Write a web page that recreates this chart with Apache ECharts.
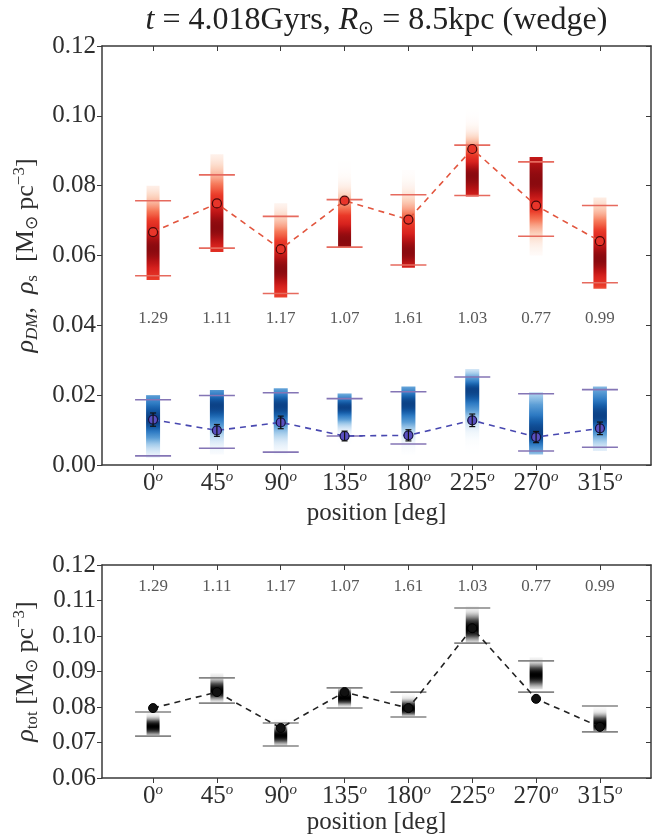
<!DOCTYPE html>
<html><head><meta charset="utf-8">
<script src="https://cdn.jsdelivr.net/npm/echarts@6/dist/echarts.min.js"></script>
<style>html,body{margin:0;padding:0;background:#fff}#c{width:670px;height:837px}</style>
</head><body><div id="c"></div>
<script>
// ---- data ----
const positions = [0, 45, 90, 135, 180, 225, 270, 315];
const ratioLabels = ['1.29', '1.11', '1.17', '1.07', '1.61', '1.03', '0.77', '0.99'];

// dark matter (red)
const redMean       = [0.0667, 0.0749, 0.0618, 0.0757, 0.0703, 0.0905, 0.0743, 0.0641];
const redCapLo      = [0.0542, 0.0621, 0.0491, 0.0624, 0.0573, 0.0772, 0.0655, 0.0522];
const redCapHi      = [0.0757, 0.0831, 0.0712, 0.0760, 0.0774, 0.0916, 0.0868, 0.0743];
const redBarLo      = [0.0530, 0.0610, 0.0480, 0.0622, 0.0565, 0.0769, 0.0600, 0.0505];
const redBarHi      = [0.0800, 0.0890, 0.0750, 0.0870, 0.0845, 0.1035, 0.0882, 0.0766];
const redPeak       = [0.0620, 0.0680, 0.0560, 0.0645, 0.0610, 0.0830, 0.0810, 0.0590];
const redSpreadUp   = [0.0070, 0.0080, 0.0070, 0.0060, 0.0070, 0.0050, 0.0120, 0.0070];
const redSpreadDown = [0.0075, 0.0070, 0.0065, 0.0100, 0.0060, 0.0080, 0.0070, 0.0065];

// stars (blue)
const blueMean       = [0.0130, 0.0099, 0.0122, 0.0083, 0.0085, 0.0128, 0.0080, 0.0105];
const blueErr        = [0.0019, 0.0017, 0.0018, 0.0014, 0.0016, 0.0018, 0.0016, 0.0018];
const blueCapLo      = [0.0026, 0.0048, 0.0037, 0.0083, 0.0060, null, 0.0040, 0.0051];
const blueCapHi      = [0.0187, 0.0199, 0.0207, 0.0190, 0.0210, 0.0252, 0.0204, 0.0216];
const blueBarLo      = [0.0020, 0.0030, 0.0030, 0.0060, 0.0030, 0.0030, 0.0030, 0.0040];
const blueBarHi      = [0.0200, 0.0215, 0.0220, 0.0205, 0.0225, 0.0275, 0.0208, 0.0225];
const bluePeak       = [0.0130, 0.0170, 0.0170, 0.0165, 0.0175, 0.0215, 0.0090, 0.0140];
const blueSpreadUp   = [0.0060, 0.0040, 0.0040, 0.0030, 0.0040, 0.0030, 0.0070, 0.0060];
const blueSpreadDown = [0.0045, 0.0050, 0.0050, 0.0030, 0.0045, 0.0050, 0.0040, 0.0045];

// total (black)
const totMean       = [0.0797, 0.0842, 0.0741, 0.0842, 0.0797, 0.1022, 0.0823, 0.0744];
const totCapLo      = [0.0718, 0.0811, 0.0690, 0.0797, 0.0772, 0.0980, 0.0842, 0.0730];
const totCapHi      = [0.0786, 0.0882, 0.0755, 0.0854, 0.0842, 0.1079, 0.0930, 0.0803];
const totBarLo      = [0.0720, 0.0810, 0.0690, 0.0795, 0.0775, 0.0980, 0.0850, 0.0730];
const totBarHi      = [0.0790, 0.0895, 0.0765, 0.0855, 0.0845, 0.1085, 0.0940, 0.0805];
const totPeak       = [0.0745, 0.0845, 0.0720, 0.0825, 0.0795, 0.1020, 0.0890, 0.0750];
const totSpreadUp   = [0.0015, 0.0020, 0.0015, 0.0015, 0.0015, 0.0025, 0.0020, 0.0018];
const totSpreadDown = [0.0015, 0.0015, 0.0015, 0.0012, 0.0012, 0.0020, 0.0020, 0.0012];

// ---- helpers ----
const SERIF = 'Liberation Serif';
// colour maps: [position, r, g, b]
const cmaps = {
  red:  [[0,255,255,255],[0.1,252,212,192],[0.3,246,120,88],[0.5,234,58,40],[0.75,216,34,30],[0.9,180,18,20],[1,138,10,15]],
  blue: [[0,255,255,255],[0.1,224,237,249],[0.3,160,202,234],[0.5,92,158,214],[0.75,45,122,195],[0.9,20,90,165],[1,12,66,135]],
  grey: [[0,255,255,255],[0.15,225,225,225],[0.35,160,160,160],[0.6,80,80,80],[0.85,25,25,25],[1,0,0,0]]
};
function cmap(name, I) {
  const a = cmaps[name];
  const t = Math.max(0, Math.min(1, I));
  let i = 0;
  while (i < a.length - 2 && t > a[i + 1][0]) i++;
  const f = (t - a[i][0]) / (a[i + 1][0] - a[i][0]);
  const c = [1, 2, 3].map(k => Math.round(a[i][k] + (a[i + 1][k] - a[i][k]) * f));
  return 'rgb(' + c.join(',') + ')';
}
function barData(lo, hi, pk, su, sd) {
  return positions.map((p, i) => [p, lo[i], hi[i], pk[i], su[i], sd[i]]);
}
function barRender(name, w) {
  return function (params, api) {
    const x = api.value(0), lo = api.value(1), hi = api.value(2), pk = api.value(3), su = api.value(4), sd = api.value(5);
    const pT = api.coord([x, hi]), pB = api.coord([x, lo]);
    const stops = [];
    const N = 40;
    for (let k = 0; k <= N; k++) {
      const t = k / N, v = hi - t * (hi - lo);
      const s = v >= pk ? su : sd;
      const d = (v - pk) / s;
      stops.push({ offset: t, color: cmap(name, Math.exp(-0.5 * d * d)) });
    }
    return {
      type: 'rect',
      shape: { x: pT[0] - w / 2, y: pT[1], width: w, height: pB[1] - pT[1] },
      style: { fill: new echarts.graphic.LinearGradient(0, 0, 0, 1, stops) }
    };
  };
}
function capData(lo, hi) { return positions.map((p, i) => [p, lo[i] == null ? NaN : lo[i], hi[i]]); }
function capRender(color, w, lw) {
  return function (params, api) {
    const x = api.value(0), lo = api.value(1), hi = api.value(2);
    const children = [];
    [lo, hi].forEach(v => {
      if (v == null || isNaN(v)) return;
      const p = api.coord([x, v]);
      children.push({ type: 'line', shape: { x1: p[0] - w / 2, y1: p[1], x2: p[0] + w / 2, y2: p[1] }, style: { stroke: color, lineWidth: lw } });
    });
    return { type: 'group', children };
  };
}
function errRender(params, api) {
  const x = api.value(0), m = api.value(1), e = api.value(2);
  const a = api.coord([x, m + e]), b = api.coord([x, m - e]);
  return { type: 'group', children: [
    { type: 'line', shape: { x1: a[0], y1: a[1], x2: b[0], y2: b[1] }, style: { stroke: '#111', lineWidth: 1.2 } },
    { type: 'line', shape: { x1: a[0] - 3, y1: a[1], x2: a[0] + 3, y2: a[1] }, style: { stroke: '#111', lineWidth: 1.2 } },
    { type: 'line', shape: { x1: b[0] - 3, y1: b[1], x2: b[0] + 3, y2: b[1] }, style: { stroke: '#111', lineWidth: 1.2 } }
  ]};
}

const AX = '#3a3a3a';
const TXT = '#2e2e2e';
const degRich = {
  n: { fontSize: 25, fontFamily: SERIF, color: TXT, lineHeight: 26, verticalAlign: 'bottom' },
  s: { fontSize: 15, fontFamily: SERIF, fontStyle: 'italic', color: TXT, lineHeight: 26, verticalAlign: 'top' }
};
function xBottom(gi) {
  return {
    gridIndex: gi, type: 'value', min: -36, max: 351, position: 'bottom',
    axisLine: { show: true, onZero: false, lineStyle: { color: AX, width: 1.5 } },
    axisTick: { show: true, inside: false, length: 5, customValues: positions, lineStyle: { color: AX } },
    axisLabel: { show: true, customValues: positions, margin: 5, formatter: v => '{n|' + v + '}{s|o}', rich: degRich },
    splitLine: { show: false },
    name: 'position [deg]', nameLocation: 'middle', nameGap: 32,
    nameTextStyle: { fontSize: 25, fontFamily: SERIF, color: TXT }
  };
}
function xTop(gi, name) {
  return {
    gridIndex: gi, type: 'value', min: -36, max: 351, position: 'top',
    axisLine: { show: true, onZero: false, lineStyle: { color: AX, width: 1.5 } },
    axisTick: { show: true, inside: true, length: 5, customValues: positions, lineStyle: { color: AX } },
    axisLabel: { show: false }, splitLine: { show: false },
    name: name || '', nameLocation: 'middle', nameGap: 7,
    nameTextStyle: {
      rich: {
        i: { fontSize: 32, fontFamily: SERIF, fontStyle: 'italic', color: '#222' },
        n: { fontSize: 32, fontFamily: SERIF, color: '#222' },
        sub: { fontSize: 19, fontFamily: SERIF, color: '#222', verticalAlign: 'bottom', lineHeight: 36 }
      }
    }
  };
}
const yRich = {
  i: { fontSize: 26, fontFamily: SERIF, fontStyle: 'italic', color: TXT, lineHeight: 30 },
  n: { fontSize: 26, fontFamily: SERIF, color: TXT, lineHeight: 30 },
  sub: { fontSize: 17, fontFamily: SERIF, color: TXT, verticalAlign: 'bottom', lineHeight: 30 },
  isub: { fontSize: 17, fontFamily: SERIF, fontStyle: 'italic', color: TXT, verticalAlign: 'bottom', lineHeight: 30 },
  sup: { fontSize: 17, fontFamily: SERIF, color: TXT, verticalAlign: 'top', lineHeight: 30 }
};
function yLeft(gi, min, max, itv, name, gap) {
  return {
    gridIndex: gi, type: 'value', min, max, interval: itv, position: 'left',
    axisLine: { show: true, onZero: false, lineStyle: { color: AX, width: 1.5 } },
    axisTick: { show: true, inside: false, length: 5, lineStyle: { color: AX } },
    axisLabel: { show: true, margin: 6, formatter: v => v.toFixed(2), fontSize: 25, fontFamily: SERIF, color: TXT },
    splitLine: { show: false },
    name, nameLocation: 'middle', nameGap: gap, nameRotate: 90,
    nameTextStyle: { rich: yRich }
  };
}
function yRight(gi, min, max, itv) {
  return {
    gridIndex: gi, type: 'value', min, max, interval: itv, position: 'right',
    axisLine: { show: true, onZero: false, lineStyle: { color: AX, width: 1.5 } },
    axisTick: { show: true, inside: true, length: 5, lineStyle: { color: AX } },
    axisLabel: { show: false }, splitLine: { show: false }
  };
}
function textSeries(xi, yi, yPos) {
  return {
    type: 'scatter', xAxisIndex: xi, yAxisIndex: yi, symbolSize: 0, z: 6, silent: true,
    data: positions.map((p, i) => [p, yPos, ratioLabels[i]]),
    label: { show: true, position: 'inside', formatter: p => p.value[2], fontSize: 17, fontFamily: SERIF, color: TXT }
  };
}

const option = {
  backgroundColor: '#fff',
  animation: false,
  grid: [
    { left: 102, right: 19, top: 42, height: 423 },
    { left: 102, right: 19, top: 565, height: 213 }
  ],
  xAxis: [
    xBottom(0), xTop(0, '{i|t}{n| = 4.018Gyrs, }{i|R}{sub|⊙}{n| = 8.5kpc (wedge)}'),
    xBottom(1), xTop(1, '')
  ],
  yAxis: [
    yLeft(0, 0, 0.12, 0.02, '{i|ρ}{isub|DM}{n|,  }{i|ρ}{sub|s}{n|  [M}{sub|⊙}{n| pc}{sup|−3}{n|]}', 55),
    yRight(0, 0, 0.12, 0.02),
    yLeft(1, 0.06, 0.12, 0.01, '{i|ρ}{sub|tot}{n| [M}{sub|⊙}{n| pc}{sup|−3}{n|]}', 55),
    yRight(1, 0.06, 0.12, 0.01)
  ],
  series: [
    // red
    { type: 'custom', xAxisIndex: 0, yAxisIndex: 0, z: 2, renderItem: barRender('red', 13),
      data: barData(redBarLo, redBarHi, redPeak, redSpreadUp, redSpreadDown) },
    { type: 'custom', xAxisIndex: 0, yAxisIndex: 0, z: 3, renderItem: capRender('#e66a5e', 36, 1.6),
      data: capData(redCapLo, redCapHi) },
    { type: 'line', xAxisIndex: 0, yAxisIndex: 0, z: 4,
      data: positions.map((p, i) => [p, redMean[i]]),
      lineStyle: { color: '#e2553e', width: 1.6, type: [6, 5] },
      symbol: 'circle', symbolSize: 9,
      itemStyle: { color: '#e8352a', borderColor: '#4a0808', borderWidth: 1.2 } },
    // blue
    { type: 'custom', xAxisIndex: 0, yAxisIndex: 0, z: 2, renderItem: barRender('blue', 14),
      data: barData(blueBarLo, blueBarHi, bluePeak, blueSpreadUp, blueSpreadDown) },
    { type: 'custom', xAxisIndex: 0, yAxisIndex: 0, z: 3, renderItem: capRender('#8475b5', 36, 1.6),
      data: capData(blueCapLo, blueCapHi) },
    { type: 'line', xAxisIndex: 0, yAxisIndex: 0, z: 4,
      data: positions.map((p, i) => [p, blueMean[i]]),
      lineStyle: { color: '#4848b0', width: 1.6, type: [6, 5] },
      symbol: 'circle', symbolSize: 9,
      itemStyle: { color: '#5a50c0', borderColor: '#141440', borderWidth: 1.2 } },
    { type: 'custom', xAxisIndex: 0, yAxisIndex: 0, z: 5, renderItem: errRender,
      data: positions.map((p, i) => [p, blueMean[i], blueErr[i]]) },
    textSeries(0, 0, 0.042),
    // total
    { type: 'custom', xAxisIndex: 2, yAxisIndex: 2, z: 2, renderItem: barRender('grey', 13),
      data: barData(totBarLo, totBarHi, totPeak, totSpreadUp, totSpreadDown) },
    { type: 'custom', xAxisIndex: 2, yAxisIndex: 2, z: 3, renderItem: capRender('#858585', 36, 1.6),
      data: capData(totCapLo, totCapHi) },
    { type: 'line', xAxisIndex: 2, yAxisIndex: 2, z: 4,
      data: positions.map((p, i) => [p, totMean[i]]),
      lineStyle: { color: '#222', width: 1.6, type: [6, 5] },
      symbol: 'circle', symbolSize: 9,
      itemStyle: { color: '#111', borderColor: '#000', borderWidth: 1 } },
    textSeries(2, 2, 0.1138)
  ]
};
const chart = echarts.init(document.getElementById('c'), null, { renderer: 'canvas' });
chart.setOption(option);
</script></body></html>
